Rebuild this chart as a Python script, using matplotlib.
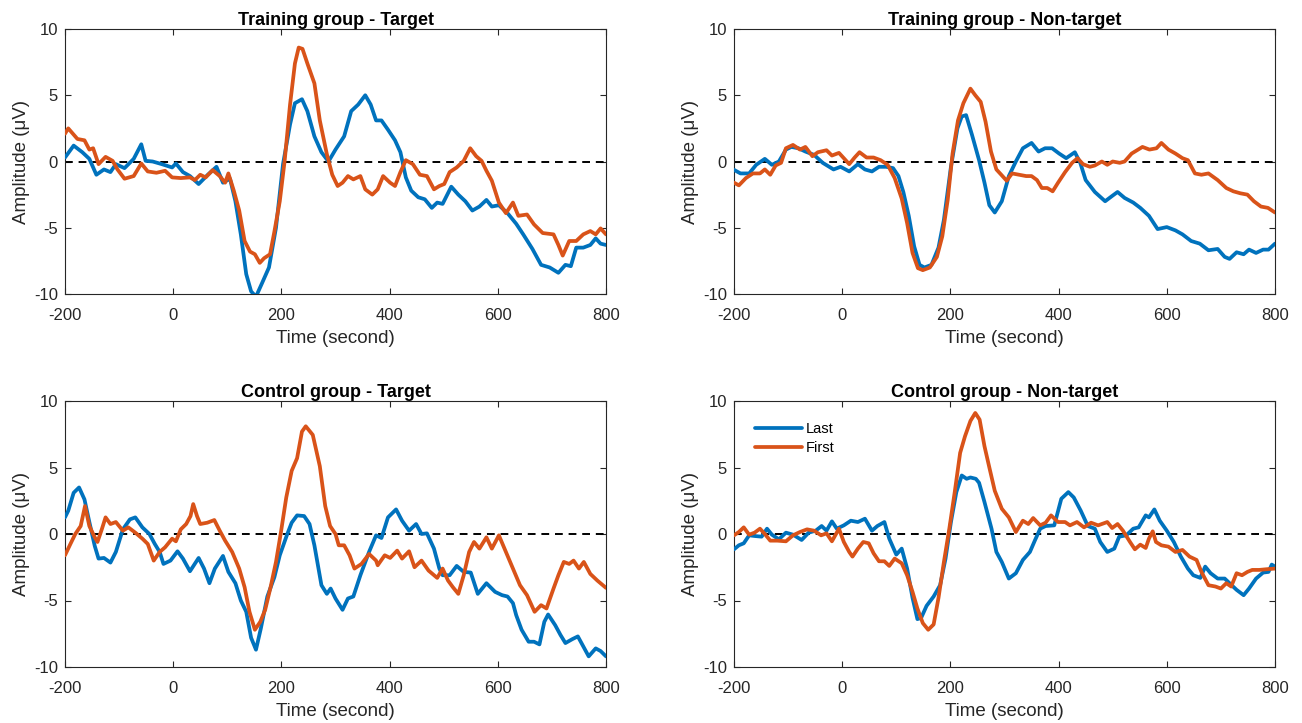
import matplotlib
matplotlib.use("Agg")
import matplotlib.pyplot as plt

plt.rcParams['font.family'] = ['Liberation Sans', 'DejaVu Sans']
plt.rcParams['axes.unicode_minus'] = False

# ---------------- data ----------------
titles = ["Training group - Target", "Training group - Non-target",
          "Control group - Target", "Control group - Non-target"]
series_names = ["Last", "First"]
xticks = [-200, 0, 200, 400, 600, 800]
yticks = [-10, -5, 0, 5, 10]

# Training group - Target
tt_last_t = [-200,-184,-168,-155,-142,-128,-116,-106,-90,-73,-59,-51,-38,-21,-2,5,18,31,47,64,80,92,105,115,125,135,144,153,164,177,190,203,216,225,238,248,261,274,287,300,316,329,342,355,365,375,385,397,410,420,430,440,453,465,478,488,498,514,527,540,553,566,579,589,602,618,634,647,664,680,696,712,725,735,745,758,771,781,790,800]
tt_last_v = [0.3,1.2,0.7,0.2,-1.0,-0.6,-0.8,-0.2,-0.5,0.2,1.3,0.05,0,-0.2,-0.45,-0.15,-0.8,-1.1,-1.7,-1.0,-0.4,-1.6,-1.3,-3.0,-5.5,-8.5,-9.8,-10.2,-9.2,-8.0,-5.0,-0.2,2.8,4.4,4.7,3.8,1.9,0.7,0,0.9,1.9,3.8,4.3,5.0,4.3,3.1,3.1,2.4,1.6,0.7,-1.2,-2.2,-2.7,-2.85,-3.5,-3.1,-3.2,-1.9,-2.5,-3.0,-3.7,-3.4,-2.9,-3.4,-3.3,-3.9,-4.7,-5.5,-6.6,-7.8,-8.0,-8.4,-7.8,-7.9,-6.5,-6.5,-6.3,-5.8,-6.2,-6.3]
tt_first_t = [-200,-194,-177,-164,-155,-148,-138,-125,-112,-103,-90,-73,-59,-47,-31,-15,-2,14,31,40,50,60,73,86,96,102,112,122,132,142,151,160,168,179,187,197,206,216,225,232,239,248,261,271,284,294,304,313,323,333,346,355,368,378,388,401,410,420,430,443,456,469,482,492,501,511,524,537,549,560,570,579,589,602,615,628,638,654,667,683,703,712,720,732,745,758,771,781,790,800]
tt_first_v = [2.1,2.5,1.7,1.6,0.9,1.0,-0.2,0.35,0.05,-0.6,-1.3,-1.1,-0.15,-0.75,-0.85,-0.7,-1.2,-1.25,-1.2,-1.4,-1.0,-1.2,-0.65,-1.1,-1.6,-0.9,-2.2,-3.7,-6.0,-6.8,-7.0,-7.65,-7.3,-7.0,-5.3,-3.0,0.05,4.3,7.4,8.6,8.5,7.4,5.9,3.1,0.55,-1.0,-1.85,-1.6,-1.1,-1.35,-1.1,-2.1,-2.5,-2.1,-1.1,-1.6,-1.85,-0.8,0.1,-0.2,-1.0,-1.1,-2.1,-1.85,-1.7,-0.8,-0.45,0.05,1.0,0.4,0.05,-0.7,-1.45,-3.1,-3.9,-3.1,-4.1,-4.0,-4.75,-5.4,-5.5,-6.3,-7.1,-6.0,-6.0,-5.5,-5.25,-5.5,-5.05,-5.5]

# Training group - Non-target
tn_last_t = [-200,-188,-172,-159,-143,-130,-117,-104,-94,-81,-68,-52,-36,-16,-3,13,29,42,55,68,81,94,104,113,123,133,143,152,165,178,188,201,213,221,229,240,253,263,272,282,295,308,321,334,350,363,375,388,401,414,430,440,450,467,486,499,509,522,538,551,567,583,600,616,629,645,661,677,694,707,716,729,742,752,765,778,788,800]
tn_last_v = [-0.63,-0.9,-0.9,-0.25,0.2,-0.25,0,0.9,1.1,1.0,0.75,0.5,-0.1,-0.6,-0.4,-0.75,-0.2,-0.6,-0.75,-0.4,-0.4,-0.5,-1.1,-2.3,-4.1,-6.4,-7.8,-8.0,-7.8,-6.5,-4.4,-0.4,2.5,3.4,3.5,2.0,0.1,-1.6,-3.3,-3.85,-3.0,-1.1,0,1.0,1.4,0.75,1.0,1.0,0.6,0.25,0.7,-0.1,-1.4,-2.3,-3.0,-2.6,-2.3,-2.75,-3.1,-3.5,-4.1,-5.1,-4.95,-5.2,-5.5,-6.0,-6.2,-6.7,-6.6,-7.2,-7.35,-6.85,-7.0,-6.65,-6.9,-6.65,-6.65,-6.2]
tn_first_t = [-200,-191,-178,-165,-152,-143,-133,-123,-113,-104,-91,-78,-68,-55,-45,-29,-19,-6,3,13,23,32,45,58,71,84,97,110,120,130,140,149,162,175,185,195,204,214,224,237,246,256,265,275,285,294,304,314,327,340,350,360,369,379,389,399,412,425,435,445,458,467,480,490,500,513,522,535,555,568,581,590,603,616,629,639,652,664,677,694,710,723,736,749,761,774,787,800]
tn_first_v = [-1.6,-1.8,-1.25,-0.9,-0.9,-0.6,-1.0,-0.3,-0.1,1.0,1.25,0.9,1.1,0.4,0.7,0.85,0.45,0.65,0.25,-0.2,0.3,0.7,0.3,0.3,0.1,-0.25,-1.25,-2.8,-4.65,-6.9,-8.05,-8.2,-8.0,-7.2,-5.65,-2.9,0.6,3.1,4.4,5.5,5.0,4.5,3.0,0.75,-0.6,-1.0,-1.45,-0.9,-1.0,-1.1,-1.1,-1.4,-2.0,-2.0,-2.25,-1.6,-0.8,-0.1,0.25,-0.2,-0.4,-0.3,0,-0.25,0,-0.1,0,0.6,1.1,0.9,1.0,1.4,0.9,0.6,0.25,0.1,-0.9,-1.0,-0.9,-1.4,-2.0,-2.25,-2.4,-2.5,-3.0,-3.4,-3.5,-3.85]

# Control group - Target
ct_last_t = [-200,-194,-184,-174,-164,-155,-145,-138,-128,-116,-106,-93,-80,-70,-57,-44,-34,-25,-18,-5,8,18,31,47,57,67,77,92,102,115,125,135,144,153,162,174,187,197,210,219,229,242,252,261,274,284,291,300,313,323,333,346,362,375,385,397,412,423,436,449,459,469,482,492,498,511,524,537,550,563,579,595,608,618,628,634,644,657,667,677,686,693,706,716,725,738,748,758,768,781,790,800]
ct_last_v = [1.25,1.75,3.1,3.5,2.6,0.9,-0.9,-1.85,-1.8,-2.15,-1.35,0.35,1.1,1.25,0.5,0,-0.75,-1.35,-2.25,-2.0,-1.3,-1.85,-2.8,-1.8,-2.6,-3.7,-2.6,-1.65,-2.85,-3.7,-5.0,-5.85,-7.8,-8.7,-7.1,-4.7,-3.25,-1.6,-0.1,0.85,1.4,1.35,0.75,-0.85,-3.85,-4.5,-4.1,-4.85,-5.7,-4.85,-4.7,-3.1,-1.35,-0.1,-0.3,1.25,1.85,1.0,0.25,0.75,0,0.05,-1.1,-2.6,-3.1,-3.1,-2.4,-2.85,-2.9,-4.5,-3.7,-4.35,-4.6,-4.7,-5.2,-6.1,-7.2,-8.1,-8.1,-8.3,-6.6,-6.05,-6.85,-7.6,-8.2,-7.9,-7.7,-8.45,-9.2,-8.6,-8.8,-9.2]
ct_first_t = [-200,-190,-181,-171,-163,-155,-145,-140,-132,-125,-116,-106,-93,-83,-70,-57,-47,-36,-25,-15,-2,5,14,24,32,37,44,50,63,76,86,96,109,122,132,141,151,161,170,180,190,199,209,219,229,238,245,258,271,281,290,300,306,316,326,335,348,362,375,378,391,401,414,423,436,446,459,472,488,498,508,517,527,537,547,556,566,579,589,602,615,628,641,654,668,680,690,703,712,722,732,740,750,759,771,784,800]
ct_first_v = [-1.6,-0.75,0,0.6,2.1,0.6,-0.25,-0.6,0.35,1.25,0.75,0.9,0.25,0.5,0.1,-0.35,-0.75,-2.0,-1.35,-1.0,-0.35,-0.55,0.35,0.75,1.35,2.25,1.35,0.75,0.85,1.05,0.25,-0.5,-1.35,-2.6,-4.0,-5.85,-7.2,-6.6,-5.7,-4.0,-2.1,0.1,2.75,4.75,5.7,7.7,8.1,7.45,5.1,2.1,0.6,0,-0.85,-0.85,-1.6,-2.6,-2.25,-1.5,-2.0,-2.35,-1.6,-1.8,-1.25,-1.85,-1.3,-2.5,-2.0,-2.75,-3.3,-2.6,-3.5,-4.0,-4.5,-3.1,-1.35,-0.6,-1.1,-0.25,-1.1,-0.1,-1.35,-2.6,-3.85,-4.6,-5.85,-5.35,-5.6,-4.1,-3.1,-2.1,-2.25,-2.0,-2.6,-2.1,-3.0,-3.5,-4.05]

# Control group - Non-target
cn_last_t = [-200,-191,-182,-172,-162,-149,-139,-130,-117,-104,-91,-75,-62,-49,-38,-29,-19,-10,3,16,29,42,55,65,78,87,100,110,120,130,139,146,156,169,181,191,201,211,221,230,237,247,253,263,276,285,295,308,321,334,347,356,366,376,392,405,418,428,441,454,467,477,490,503,512,525,538,548,561,567,577,587,600,613,626,639,649,662,671,681,694,707,716,729,742,752,765,778,788,794,800]
cn_last_v = [-1.15,-0.85,-0.7,-0.1,-0.15,-0.2,0.4,-0.05,-0.4,0.1,-0.05,-0.45,0.1,0.25,0.6,0.25,0.95,0.4,0.65,1.0,0.9,1.15,0.25,0.6,0.9,-0.35,-1.55,-1.1,-2.6,-4.8,-6.4,-6.3,-5.4,-4.7,-3.85,-1.85,0.9,3.15,4.4,4.15,4.25,4.15,3.85,2.4,0.4,-1.35,-2.1,-3.35,-2.95,-1.95,-1.35,-0.5,0.4,0.6,0.65,2.65,3.15,2.75,1.75,0.6,0.4,-0.6,-1.35,-1.1,-0.2,-0.1,0.4,0.5,1.4,1.25,1.85,1.0,0.25,-0.6,-1.7,-2.6,-3.1,-3.3,-2.45,-2.95,-3.35,-3.35,-3.7,-4.2,-4.6,-4.1,-3.35,-2.9,-2.85,-2.3,-2.45]
cn_first_t = [-200,-191,-182,-172,-162,-152,-143,-133,-120,-104,-91,-78,-65,-52,-39,-29,-19,-6,3,13,19,29,39,49,58,68,78,87,97,110,120,130,139,149,159,169,178,188,198,208,218,227,237,246,254,263,272,282,295,308,321,334,344,353,366,376,386,399,412,421,434,447,460,473,490,499,509,519,532,541,551,561,567,574,580,590,603,616,629,642,655,664,677,690,700,710,719,729,739,749,758,771,784,800]
cn_first_v = [-0.1,0.15,0.5,-0.05,0.1,0.4,0,-0.5,-0.5,-0.55,-0.1,0.15,0.35,0.25,-0.1,0.05,-0.55,0.4,-0.6,-1.35,-1.7,-1.1,-0.6,-0.7,-1.45,-2.05,-2.05,-2.4,-1.85,-2.2,-3.1,-4.35,-5.6,-6.7,-7.2,-6.8,-4.8,-2.1,0.4,3.15,6.1,7.35,8.5,9.1,8.6,6.6,5.0,3.25,1.9,1.25,0.15,1.0,0.75,1.2,0.65,0.85,1.4,0.9,0.9,0.65,0.9,0.5,0.85,0.65,0.9,0.45,0.75,0.25,-0.6,-1.15,-0.8,-1.05,-0.35,0.2,-0.6,-0.85,-0.95,-1.35,-1.2,-1.7,-1.95,-2.85,-3.85,-3.95,-4.1,-3.7,-3.95,-2.95,-3.1,-2.85,-2.7,-2.7,-2.65,-2.6]

panels = [
    (tt_last_t, tt_last_v, tt_first_t, tt_first_v),
    (tn_last_t, tn_last_v, tn_first_t, tn_first_v),
    (ct_last_t, ct_last_v, ct_first_t, ct_first_v),
    (cn_last_t, cn_last_v, cn_first_t, cn_first_v),
]

# ---------------- figure ----------------
W, H = 1302, 723
fig = plt.figure(figsize=(W / 100, H / 100), dpi=100)

# axes boxes in pixels: (left, top, right, bottom)
boxes = [(65, 29, 606, 294), (734, 29, 1275, 294),
         (65, 401, 606, 667), (734, 401, 1275, 667)]

blue = '#0072BD'
orange = '#D95319'
axcol = '#262626'

for i, (box, data) in enumerate(zip(boxes, panels)):
    l, t, r, b = box
    ax = fig.add_axes([l / W, 1 - b / H, (r - l) / W, (b - t) / H])
    lt, lv, ft, fv = data
    ax.plot(lt, lv, color=blue, lw=2.7, label=series_names[0],
            solid_joinstyle='round', solid_capstyle='round', zorder=3)
    ax.plot(ft, fv, color=orange, lw=2.7, label=series_names[1],
            solid_joinstyle='round', solid_capstyle='round', zorder=3)
    ax.axhline(0, color='black', lw=1.4, ls=(0, (4, 3)), zorder=2)
    ax.set_xlim(-200, 800)
    ax.set_ylim(-10, 10)
    ax.set_xticks(xticks)
    ax.set_yticks(yticks)
    ax.tick_params(direction='in', top=True, right=True, length=4, width=0.8,
                   color=axcol, labelcolor=axcol, labelsize=12)
    ax.tick_params(axis='x', pad=10)
    ax.tick_params(axis='y', pad=5)
    for s in ax.spines.values():
        s.set_color(axcol)
        s.set_linewidth(0.8)
    ax.set_title(titles[i], fontsize=13, fontweight='bold', color='black', pad=3)
    ax.set_xlabel('Time (second)', fontsize=13.5, color=axcol, labelpad=5)
    ax.set_ylabel('Amplitude (\u03bcV)', fontsize=13.5, color=axcol, labelpad=3)
    if i == 3:
        ax.legend(loc='upper left', frameon=False, fontsize=10.5,
                  handlelength=3.2, handletextpad=0.3, borderaxespad=0.6,
                  bbox_to_anchor=(0.012, 0.975), labelspacing=0.35)

fig.savefig('out.png', dpi=100)
